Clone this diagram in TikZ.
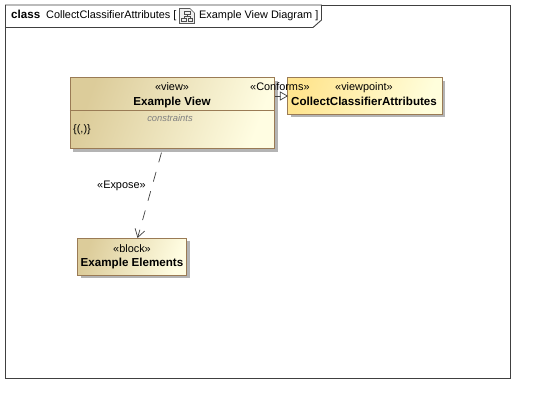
\documentclass[tikz,border=0pt]{standalone}
\usepackage{fontspec}
\setmainfont{Liberation Sans}
\usetikzlibrary{arrows.meta,shadows}
\definecolor{frameline}{HTML}{404040}
\definecolor{boxline}{HTML}{9A7B55}
\definecolor{tanA}{HTML}{DCCC9A}
\definecolor{tanB}{HTML}{FFFDE2}
\definecolor{goldA}{HTML}{FFE590}
\definecolor{goldB}{HTML}{FFFEDC}
\definecolor{shadowgray}{HTML}{B4B4B4}
\tikzset{
  x=1pt,y=-1pt,
  umlshadow/.style={general shadow={shadow xshift=3pt,shadow yshift=-3pt,fill=shadowgray}},
  umlbox/.style={rectangle,draw=boxline,line width=0.9pt,inner sep=0,umlshadow,anchor=north west},
  tanbox/.style={umlbox,left color=tanA,right color=tanB,shading angle=70},
  goldbox/.style={umlbox,left color=goldA,right color=goldB,shading angle=70},
  txt/.style={inner sep=0,font=\fontsize{10.9}{12}\selectfont,text=black},
  ttl/.style={txt,font=\fontsize{11.6}{13}\selectfont\bfseries},
  conn/.style={draw=frameline,line width=0.7pt},
}
\begin{document}
\begin{tikzpicture}
\useasboundingbox (0,0) rectangle (535,403);
\fill[white] (0,0) rectangle (535,403);
% frame
\draw[frameline,line width=0.9pt] (5.5,5) rectangle (510.5,378);
\draw[frameline,line width=0.9pt,fill=white] (5.5,5) -- (321.5,5) -- (321.5,20) -- (313,27.5) -- (5.5,27.5) -- cycle;
\node[ttl,anchor=base west] (kind) at (11,18.5) {class};
\node[txt,anchor=base west] (fname) at (46,18.5) {CollectClassifierAttributes [};
\node[txt,anchor=base west] (dname) at (199,18.5) {Example View Diagram ]};
% diagram icon
\draw[gray!70!black,line width=0.6pt,fill=gray!12] (179.5,8.5) -- (190,8.5) -- (194.5,13) -- (194.5,23.5) -- (179.5,23.5) -- cycle;
\draw[black!70,line width=0.6pt] (184,11) rectangle (190,14.5) (181.5,18) rectangle (186,21.5) (188,18) rectangle (192.5,21.5)
  (187,14.5) -- (187,16.3) (183.8,18) -- (183.8,16.3) -- (190.2,16.3) -- (190.2,18);
% boxes
\node[tanbox,minimum width=204.5pt,minimum height=71pt] (view) at (69.8,77.3) {};
\draw[boxline,line width=0.8pt] (view.west |- 0,110) -- (view.east |- 0,110);
\node[goldbox,minimum width=154.5pt,minimum height=36.5pt] (vp) at (287.3,77.3) {};
\node[tanbox,minimum width=109pt,minimum height=37pt] (block) at (77.3,238) {};
% connectors
\draw[conn] (vp.west -| view.east) -- (vp.west);
\draw[conn,fill=white] (vp.west) -- ++(-7,-4) -- ++(0,8) -- cycle;
\draw[conn,dash pattern=on 10pt off 10pt,dash phase=16.4pt,-{Straight Barb[length=8pt,width=10pt,line width=0.7pt]}] (view) -- (block);
% texts
\node[txt,anchor=base] (t1) at (172,91) {«view»};
\node[ttl,anchor=base] (t2) at (172,105.5) {Example View};
\node[txt,anchor=base,text=gray,font=\fontsize{9.4}{11}\selectfont\itshape] (t3) at (170,122) {constraints};
\node[txt,anchor=base west] (t4) at (73,133) {\{(,)\}};
\node[txt,anchor=base west] (t5) at (250,91) {«Conforms»};
\node[txt,anchor=base west] (t6) at (335,91) {«viewpoint»};
\node[ttl,anchor=base west] (t7) at (291,105.5) {CollectClassifierAttributes};
\node[txt,anchor=base west] (t8) at (97,189) {«Expose»};
\node[txt,anchor=base] (t9) at (132,252) {«block»};
\node[ttl,anchor=base] (t10) at (132,266.5) {Example Elements};
\end{tikzpicture}
\end{document}
